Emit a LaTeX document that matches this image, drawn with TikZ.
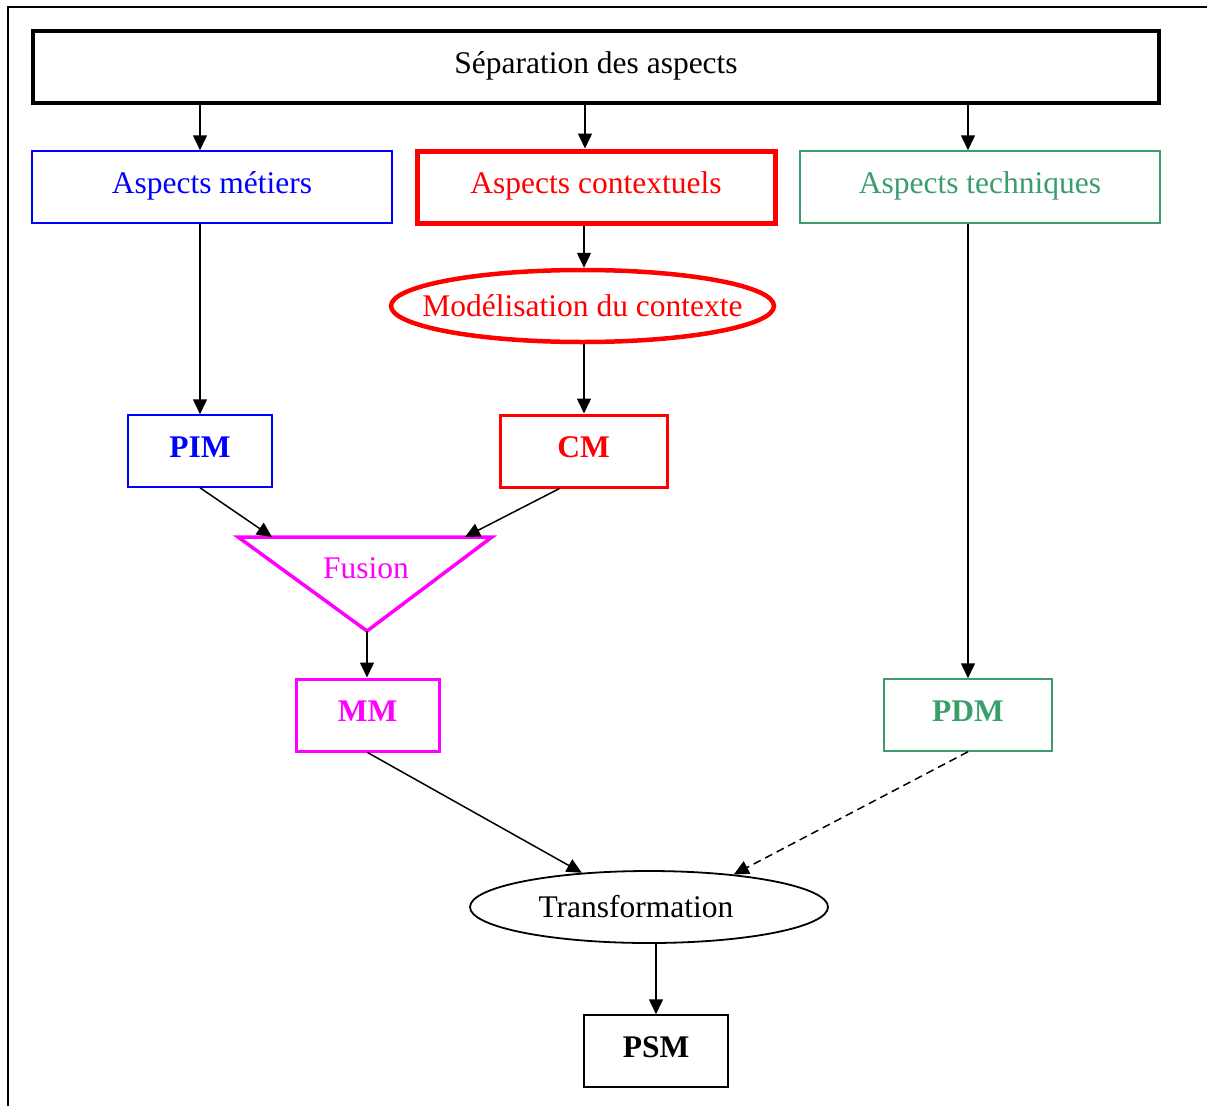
\documentclass[tikz,border=0pt]{standalone}
\usepackage{fontspec}
\setmainfont{Liberation Serif}
\usetikzlibrary{arrows.meta,shapes.geometric}
\definecolor{techgreen}{HTML}{3A9E6A}
\definecolor{fusionmag}{RGB}{255,0,255}
\definecolor{ctxred}{RGB}{255,0,0}
\definecolor{bizblue}{RGB}{0,0,255}
\begin{document}
\begin{tikzpicture}[x=1pt,y=-1pt,
  every node/.style={font=\fontsize{31.5}{38}\selectfont, inner sep=0pt},
  box/.style={draw, rectangle, minimum width=#1, minimum height=72pt, line width=1.5pt,
              text height=22pt, text depth=10pt},
  oval/.style={draw, ellipse, minimum width=#1, minimum height=72pt},
  conn/.style={-{Triangle[length=15pt,width=14pt]}, line width=1.5pt, black},
  bigbold/.style={font=\fontsize{31.5}{38}\selectfont\bfseries}]
\useasboundingbox (0,0) rectangle (1207,1106);

% frame
\draw[line width=2pt] (8,1106) -- (8,7) -- (1207,7);

% top level
\node[box=1126, line width=4.5pt] (sep) at (596,67) {Séparation des aspects};

% three aspects
\node[box=360, bizblue, text=bizblue] (metiers) at (212,187) {Aspects métiers};
\node[box=358, ctxred, text=ctxred, line width=5pt] (context) at (596,187) {Aspects contextuels};
\node[box=360, techgreen, text=techgreen] (tech) at (980,187) {Aspects techniques};

% context modelling
\node[oval=383, ctxred, text=ctxred, line width=4.5pt] (model) at (582.5,306) {\makebox[0pt]{Modélisation du contexte}};

% models
\node[box=144, bizblue, text=bizblue, bigbold] (pim) at (200,451) {PIM};
\node[box=167, ctxred, text=ctxred, bigbold, line width=3pt] (cm) at (583.5,451) {CM};
\node[box=143, fusionmag, text=fusionmag, bigbold, line width=3pt] (mm) at (367.5,715) {MM};
\node[box=168, techgreen, text=techgreen, bigbold] (pdm) at (968,715) {PDM};

% fusion triangle
\coordinate (tl) at (238,537);
\coordinate (tr) at (492,537);
\coordinate (tb) at (367,631);
\coordinate (fl) at (272,537);
\coordinate (fr) at (465,537);
\draw[fusionmag, line width=3.5pt, line join=miter] (tl) -- (tr) -- (tb) -- cycle;
\node[text=fusionmag] (fusion) at (366,568) {Fusion};

% transformation
\node[oval=358, black, line width=1.8pt] (trans) at (649,907) {\makebox[0pt]{Transformation\hspace{26pt}}};
\node[box=144, bigbold] (psm) at (656,1051) {PSM};

% connectors
\draw[conn] ([xshift=-12pt]metiers.north |- sep.south) -- ([xshift=-12pt]metiers.north);
\draw[conn] ([xshift=-11pt]context.north |- sep.south) -- ([xshift=-11pt]context.north);
\draw[conn] ([xshift=-12pt]tech.north |- sep.south) -- ([xshift=-12pt]tech.north);

\draw[conn] (metiers.south -| pim.north) -- (pim.north);
\draw[conn] ([xshift=1.5pt]context.south -| model.north) -- ([xshift=1.5pt]model.north);
\draw[conn] ([xshift=1.5pt]model.south) -- ([xshift=1.5pt]model.south |- cm.north);
\draw[conn] (tech.south -| pdm.north) -- (pdm.north);

\draw[conn] (pim.south) -- (fl);
\draw[conn] ([xshift=-24pt]cm.south) -- (fr);
\draw[conn] (tb) -- (tb |- mm.north);

\draw[conn] (mm.south) -- (trans.153);
\draw[conn, dash pattern=on 8pt off 5pt] (pdm.south) -- (trans.21);
\draw[conn] (trans.south -| psm.north) -- (psm.north);
\end{tikzpicture}
\end{document}
